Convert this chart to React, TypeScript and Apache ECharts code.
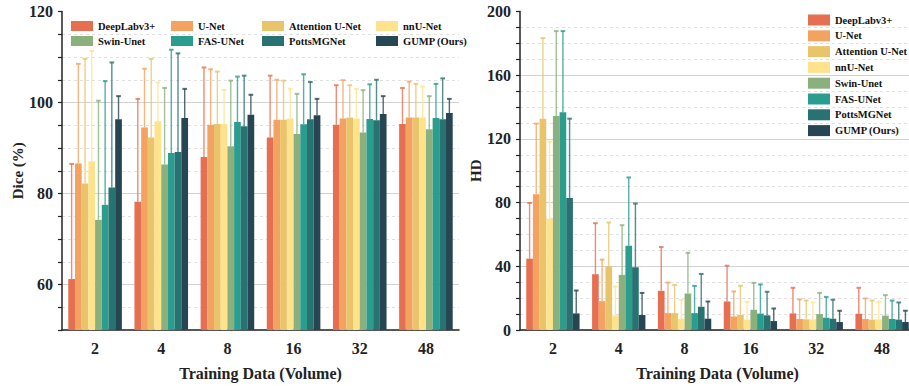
import React, { useEffect, useRef } from 'react';
import * as echarts from 'echarts';

const methods = ['DeepLabv3+', 'U-Net', 'Attention U-Net', 'nnU-Net', 'Swin-Unet', 'FAS-UNet', 'PottsMGNet', 'GUMP (Ours)'];
const methodColors = ['#E76F51', '#F4A261', '#E9C46A', '#FFE38C', '#8AB17D', '#2A9D8F', '#287271', '#264653'];
const volumes = ['2', '4', '8', '16', '32', '48'];

// Dice (%) mean per method (rows) and training volume (columns)
const diceMean = [
  [61.2, 78.2, 88.0, 92.3, 95.1, 95.3],
  [86.6, 94.5, 95.1, 96.2, 96.5, 96.7],
  [82.2, 92.3, 95.3, 96.2, 96.7, 96.7],
  [87.1, 95.9, 95.3, 96.5, 96.5, 96.7],
  [74.2, 86.4, 90.4, 93.1, 93.4, 94.1],
  [77.5, 88.9, 95.7, 95.2, 96.4, 96.6],
  [81.3, 89.1, 94.8, 96.3, 96.1, 96.3],
  [96.3, 96.6, 97.3, 97.2, 97.5, 97.7],
];
const diceStd = [
  [25.3, 22.6, 19.7, 13.6, 8.7, 7.9],
  [21.9, 12.9, 12.2, 8.8, 8.4, 7.9],
  [27.4, 17.3, 11.5, 8.6, 7.1, 7.4],
  [24.2, 8.5, 7.5, 6.5, 6.5, 6.8],
  [26.2, 16.8, 14.4, 8.8, 9.3, 7.3],
  [27.2, 22.7, 10.0, 11.0, 7.6, 7.5],
  [27.5, 21.7, 11.1, 8.2, 8.9, 9.0],
  [5.1, 6.4, 4.4, 3.6, 3.9, 3.1],
];
// HD mean / std
const hdMean = [
  [44.8, 35.0, 24.6, 17.9, 10.4, 10.2],
  [85.2, 18.1, 10.6, 8.5, 6.9, 6.9],
  [132.7, 40.0, 10.6, 9.4, 6.7, 6.5],
  [69.8, 9.2, 7.1, 6.6, 6.7, 6.7],
  [134.4, 34.6, 22.9, 12.7, 10.0, 9.0],
  [136.7, 52.9, 10.6, 10.3, 7.7, 6.9],
  [82.9, 39.4, 14.6, 9.2, 7.1, 6.5],
  [10.4, 9.4, 7.1, 5.6, 5.0, 5.0],
];
const hdStd = [
  [35.0, 32.1, 27.5, 22.5, 16.1, 16.3],
  [44.4, 26.1, 19.2, 15.7, 12.3, 12.9],
  [50.6, 27.5, 17.7, 18.3, 11.8, 12.0],
  [48.5, 18.1, 11.7, 11.1, 10.6, 11.0],
  [53.3, 31.2, 25.6, 16.9, 13.3, 12.9],
  [51.0, 42.9, 17.1, 18.3, 13.1, 11.6],
  [49.8, 40.0, 20.6, 14.8, 11.9, 10.8],
  [14.4, 13.9, 10.8, 7.9, 7.1, 7.1],
];

const FONT = "'Liberation Serif', 'Times New Roman', serif";
const CAT_GAP = 0.19;
const AXIS_COLOR = '#222';
const T = 'rgba(0,0,0,0)';

function errorSeries(i: number, gridIdx: number, mean: number[], std: number[]) {
  return {
    type: 'custom',
    name: methods[i] + ' std',
    xAxisIndex: gridIdx,
    yAxisIndex: gridIdx * 2,
    silent: true,
    z: 3,
    encode: { x: 0, y: 1 },
    data: mean.map((m, k) => [k, m, std[k]]),
    renderItem: (params: any, api: any) => {
      const k = api.value(0);
      const m = api.value(1);
      const s = api.value(2);
      const base = api.coord([k, m]);
      const top = api.coord([k, m + s]);
      const band = api.size([1, 0])[0];
      const groupW = band * (1 - CAT_GAP);
      const barW = groupW / methods.length;
      const cx = base[0] - groupW / 2 + (i + 0.5) * barW;
      const cap = barW * 0.7;
      const style = { stroke: methodColors[i], lineWidth: 1.4, opacity: 0.8 };
      return {
        type: 'group',
        children: [
          { type: 'line', shape: { x1: cx, y1: base[1], x2: cx, y2: top[1] }, style },
          { type: 'line', shape: { x1: cx - cap / 2, y1: top[1], x2: cx + cap / 2, y2: top[1] }, style: { ...style, lineWidth: 2 } },
        ],
      };
    },
  };
}

function barSeries(i: number, gridIdx: number, mean: number[]) {
  return {
    type: 'bar',
    name: methods[i],
    xAxisIndex: gridIdx,
    yAxisIndex: gridIdx * 2,
    data: mean,
    barGap: '0%',
    barCategoryGap: CAT_GAP * 100 + '%',
    itemStyle: { color: methodColors[i] },
    z: 2,
  };
}

const labelStyle = { fontFamily: FONT, fontWeight: 'bold', fontSize: 16, color: '#222' };

function xAxis(gridIndex: number) {
  return {
    type: 'category',
    gridIndex,
    data: volumes,
    boundaryGap: true,
    axisLine: { lineStyle: { color: AXIS_COLOR, width: 1.5 } },
    axisTick: { alignWithLabel: true, length: 5, lineStyle: { color: AXIS_COLOR, width: 1.5 } },
    axisLabel: { ...labelStyle, margin: 10 },
    splitLine: { show: false },
    name: 'Training Data (Volume)',
    nameLocation: 'middle',
    nameGap: 35,
    nameTextStyle: { ...labelStyle },
  };
}

function yAxes(gridIndex: number, min: number, max: number, step: number, major: number, name: string) {
  const n = Math.round(major / step);
  const startIdx = Math.round((Math.ceil(min / major) * major - min) / step) % n;
  const dashedColors: string[] = [];
  const solidColors: string[] = [];
  for (let j = 0; j < n; j++) {
    dashedColors.push(j === startIdx ? T : '#e0e0e0');
    solidColors.push(j === startIdx ? '#d2d2d2' : T);
  }
  return [
    {
      type: 'value',
      gridIndex,
      min,
      max,
      interval: step,
      axisLine: { show: true, lineStyle: { color: AXIS_COLOR, width: 1.5 } },
      axisTick: { show: true, length: 4, lineStyle: { color: AXIS_COLOR, width: 1.2 } },
      axisLabel: { ...labelStyle, margin: 9, formatter: (v: number) => (v % major === 0 ? String(v) : '') },
      splitLine: { show: true, showMinLine: true, showMaxLine: false, lineStyle: { color: dashedColors, type: [3, 3], width: 1 } },
      name,
      nameLocation: 'middle',
      nameGap: 36,
      nameTextStyle: { ...labelStyle, fontSize: 15 },
    },
    {
      type: 'value',
      gridIndex,
      min,
      max,
      interval: step,
      position: 'left',
      axisLine: { show: false },
      axisTick: { show: false },
      axisLabel: { show: false },
      splitLine: { show: true, showMinLine: true, showMaxLine: false, lineStyle: { color: solidColors, type: 'solid', width: 1.2 } },
    },
  ];
}

const leftLegendPos = [
  [71, 20], [171, 20], [262, 20], [376, 20],
  [71, 35], [171, 35], [262, 35], [376, 35],
];

export default function App() {
  const ref = useRef<HTMLDivElement>(null);
  useEffect(() => {
    if (!ref.current) return;
    const chart = echarts.init(ref.current, null, { renderer: 'svg' });
    const legendText = { fontFamily: FONT, fontWeight: 'bold', fontSize: 10.5, color: '#111', lineHeight: 12 };
    const legends: any[] = [];
    methods.forEach((m, i) => {
      legends.push({
        data: [m],
        left: leftLegendPos[i][0],
        top: leftLegendPos[i][1],
        padding: 0,
        icon: 'rect',
        itemWidth: 22,
        itemHeight: 10,
        selectedMode: false,
        textStyle: legendText,
      });
      legends.push({
        data: [m],
        left: 808,
        top: 14 + i * 15.8,
        padding: 0,
        icon: 'rect',
        itemWidth: 22,
        itemHeight: 11,
        selectedMode: false,
        textStyle: legendText,
      });
    });
    const series: any[] = [];
    methods.forEach((_, i) => {
      series.push(barSeries(i, 0, diceMean[i]));
      series.push(barSeries(i, 1, hdMean[i]));
    });
    methods.forEach((_, i) => {
      series.push(errorSeries(i, 0, diceMean[i], diceStd[i]));
      series.push(errorSeries(i, 1, hdMean[i], hdStd[i]));
    });
    chart.setOption({
      animation: false,
      backgroundColor: '#fff',
      textStyle: { fontFamily: FONT },
      grid: [
        { left: 62, top: 11.5, width: 397, bottom: 56, containLabel: false, outerBoundsMode: 'none' },
        { left: 520, top: 11.5, width: 395, bottom: 56, containLabel: false, outerBoundsMode: 'none' },
      ],
      legend: legends,
      xAxis: [xAxis(0), xAxis(1)],
      yAxis: [
        ...yAxes(0, 50, 120, 5, 20, 'Dice (%)'),
        ...yAxes(1, 0, 200, 10, 40, 'HD'),
      ],
      series,
    });
    return () => chart.dispose();
  }, []);
  return <div ref={ref} style={{ position: 'absolute', left: 0, top: 0, width: 909, height: 386 }} />;
}
